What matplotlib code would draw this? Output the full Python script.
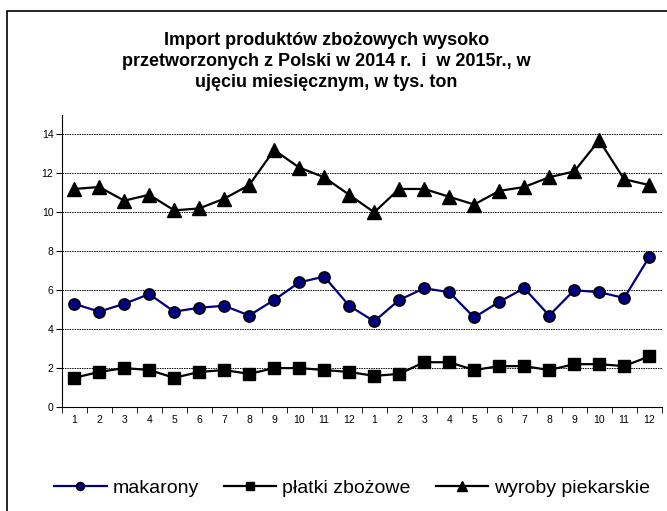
import numpy as np
import matplotlib.pyplot as plt
from matplotlib.patches import Rectangle

plt.rcParams['font.family'] = ['Liberation Sans', 'DejaVu Sans']

# ===============================
# DATA
# ===============================

months = ["1", "2", "3", "4", "5", "6", "7", "8", "9", "10", "11", "12"] * 2

makarony = [5.3, 4.9, 5.3, 5.8, 4.9, 5.1, 5.2, 4.7, 5.5, 6.4, 6.7, 5.2,
            4.4, 5.5, 6.1, 5.9, 4.6, 5.4, 6.1, 4.7, 6.0, 5.9, 5.6, 7.7]
platki = [1.5, 1.8, 2.0, 1.9, 1.5, 1.8, 1.9, 1.7, 2.0, 2.0, 1.9, 1.8,
          1.6, 1.7, 2.3, 2.3, 1.9, 2.1, 2.1, 1.9, 2.2, 2.2, 2.1, 2.6]
pieczywo = [11.2, 11.3, 10.6, 10.9, 10.1, 10.2, 10.7, 11.4, 13.2, 12.3, 11.8, 10.9,
            10.0, 11.2, 11.2, 10.8, 10.4, 11.1, 11.3, 11.8, 12.1, 13.7, 11.7, 11.4]

title = ("Import produktów zbożowych wysoko\n"
         "przetworzonych z Polski w 2014 r.  i  w 2015r., w\n"
         "ujęciu miesięcznym, w tys. ton")


# ===============================
# PLOT
# ===============================

def main():
    fig = plt.figure(figsize=(6.67, 5.11), dpi=100)
    fig.patches.append(Rectangle((7 / 667, -0.1), 1.2, 1 - 11 / 511 + 0.1,
                                 transform=fig.transFigure, fill=False,
                                 edgecolor="black", linewidth=1.2))

    ax = fig.add_axes([0.0925, 0.2035, 0.8995, 0.5715])
    x = np.arange(len(months))

    ax.plot(x, makarony, color="#000080", lw=1.6, marker="o", ms=8,
            mfc="#000080", mec="black", mew=1.2, label="makarony")
    ax.plot(x, platki, color="black", lw=1.6, marker="s", ms=9,
            label="płatki zbożowe")
    ax.plot(x, pieczywo, color="black", lw=1.6, marker="^", ms=10,
            label="wyroby piekarskie")

    ax.set_xlim(-0.5, len(months) - 0.5)
    ax.set_ylim(0, 15)
    ax.set_yticks(range(0, 15, 2))
    ax.set_xticks(x)
    ax.set_xticklabels(months)
    ax.set_xticks(np.arange(-0.5, len(months), 1), minor=True)
    ax.tick_params(axis="x", which="major", length=0, labelsize=7.5, pad=6)
    ax.tick_params(axis="x", which="minor", length=4, direction="out")
    ax.tick_params(axis="y", length=4, labelsize=7.5, pad=2)

    for v in range(2, 15, 2):
        ax.axhline(v, color="black", lw=0.7, ls=(0, (1.5, 1)), zorder=0)

    for s in ["top", "right"]:
        ax.spines[s].set_visible(False)

    fig.text(0.489, 0.937, title, ha="center", va="top", fontsize=13,
             fontweight="bold", linespacing=1.3)

    fig.legend(loc="center", bbox_to_anchor=(0.528, 0.045), ncol=3,
               frameon=False, fontsize=14, handlelength=2.7,
               columnspacing=1.3, handletextpad=0.3, markerscale=0.7)

    fig.savefig("out.png", dpi=100)


if __name__ == "__main__":
    main()
